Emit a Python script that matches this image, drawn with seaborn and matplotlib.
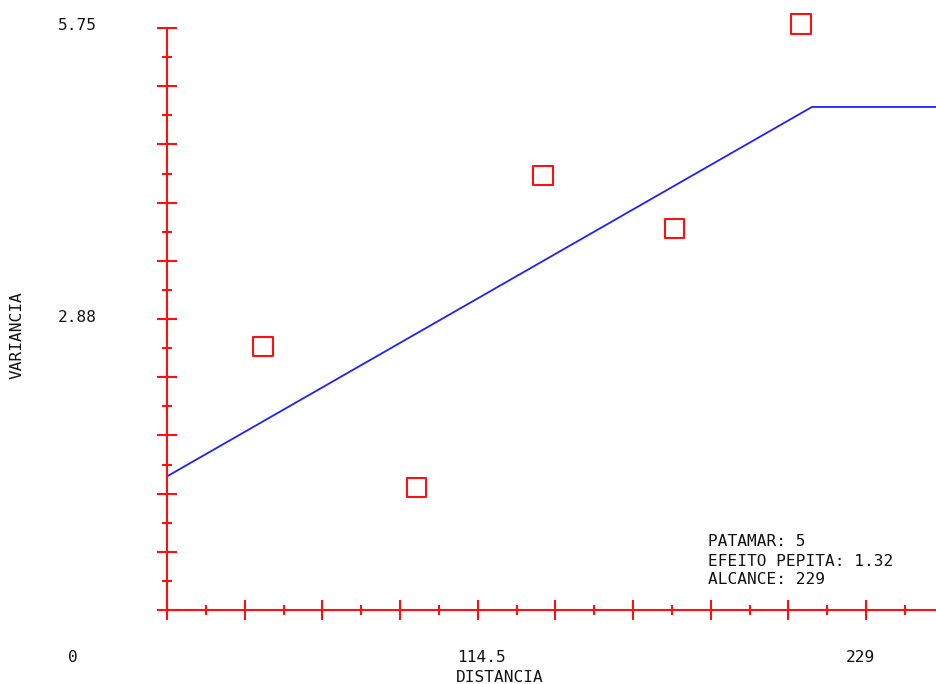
"""Semivariogram: experimental points vs fitted linear model with sill."""
import matplotlib
matplotlib.use("Agg")
import matplotlib.pyplot as plt
import seaborn as sns
import pandas as pd

sns.set_theme(style="white")
plt.rcParams["font.family"] = ["DejaVu Sans Mono", "DejaVu Sans"]

# experimental semivariogram
lag = [34.1, 88.7, 133.5, 180.3, 225.1]
gamma = [2.60, 1.21, 4.29, 3.77, 5.79]

# model parameters
sill = 5
nugget = 1.32
rng = 229
x_max = 273.4
model_x = [0, rng, x_max]
model_y = [nugget, sill - 0.03, sill - 0.03]

x_labels = ["0", "114.5", "229"]
y_labels = ["5.75", "2.88"]
info = [f"PATAMAR: {sill}", f"EFEITO PEPITA: {nugget}", f"ALCANCE: {rng}"]

W, H = 937, 684
fig = plt.figure(figsize=(W / 100, H / 100), dpi=100)
ax = fig.add_axes([167 / W, (H - 610) / H, (W - 167) / W, 582 / H])

sns.lineplot(x=model_x, y=model_y, ax=ax, color="#2020ff", lw=1.3)
pts = pd.DataFrame({"lag": lag, "gamma": gamma})
sns.scatterplot(data=pts, x="lag", y="gamma", ax=ax, marker="s", s=190,
                facecolor="none", edgecolor="#ff1010", linewidth=1.5,
                clip_on=False, zorder=5)

ax.set_xlim(0, x_max)
ax.set_ylim(0, 5.75)
step_x = 27.58
step_y = 0.575
ax.set_xticks([i * step_x for i in range(10)])
ax.set_xticks([(i + 0.5) * step_x for i in range(10)], minor=True)
ax.set_yticks([i * step_y for i in range(11)])
ax.set_yticks([(i + 0.5) * step_y for i in range(10)], minor=True)
ax.tick_params(which="major", direction="inout", length=15, width=1.5,
               color="#ff1010", labelbottom=False, labelleft=False,
               bottom=True, left=True)
ax.tick_params(which="minor", direction="inout", length=7.5, width=1.5,
               color="#ff1010", bottom=True, left=True)
for s in ["top", "right"]:
    ax.spines[s].set_visible(False)
for s in ["left", "bottom"]:
    ax.spines[s].set_color("#ff1010")
    ax.spines[s].set_linewidth(1.5)
ax.set_xlabel("")
ax.set_ylabel("")

txt = dict(fontsize=11.6, color="#111111")
for lab, px in zip(x_labels, [73, 481, 860]):
    fig.text(px / W, 1 - 658 / H, lab, ha="center", va="center", **txt)
for lab, py in zip(y_labels, [26, 318]):
    fig.text(77 / W, 1 - py / H, lab, ha="center", va="center", **txt)
fig.text(500 / W, 1 - 677 / H, "DISTANCIA", ha="center", va="center", **txt)
fig.text(17 / W, 1 - 335 / H, "VARIANCIA", ha="center", va="center",
         rotation=90, **txt)
for line, py in zip(info, [541, 561, 580]):
    fig.text(708 / W, 1 - py / H, line, ha="left", va="center", **txt)

fig.savefig("out.png", dpi=100)
